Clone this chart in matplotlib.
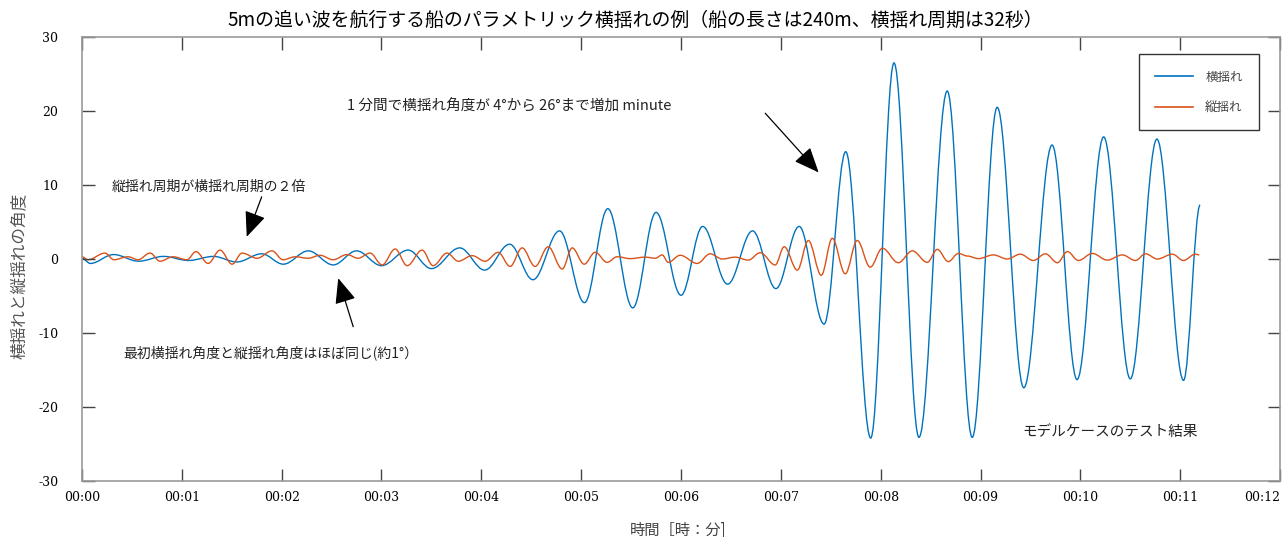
import matplotlib.pyplot as plt
from matplotlib.path import Path
from matplotlib.patches import PathPatch

plt.rcParams['font.family'] = ['Noto Sans CJK JP', 'DejaVu Sans']
plt.rcParams['axes.unicode_minus'] = False

# roll (blue) turning points: time [s], angle [deg]
roll_t = [0, 5, 19, 34, 49, 64, 79, 93, 108, 121, 136, 151, 165, 180, 196, 210,
          227, 242, 257, 271, 287, 302, 316, 331, 345, 360, 373, 388, 403, 417,
          431, 446, 459, 474, 488, 503, 520, 535, 550, 566, 583, 598, 614, 630,
          646, 662, 672]
roll_deg = [0.1, -0.6, 0.6, -0.3, 0.35, -0.2, 0.35, -0.4, 0.7, -0.7, 1.1, -0.8,
            1.1, -0.9, 1.2, -1.3, 1.5, -1.5, 2.0, -2.8, 3.8, -5.9, 6.8, -6.6,
            6.3, -4.9, 4.4, -3.4, 3.8, -4.0, 4.4, -8.8, 14.5, -24.2, 26.5, -24.1,
            22.7, -24.1, 20.5, -17.4, 15.4, -16.3, 16.5, -16.2, 16.2, -16.4, 7.3]

# pitch (orange) turning points: time [s], angle [deg]
pitch_t = [0, 3.6, 13.8, 19.2, 27.7, 33.7, 40.9, 46.9, 54.7, 63.1, 68.5, 75.8,
           83.0, 90.2, 96.2, 105.2, 114.2, 120.8, 128.1, 135.9, 143.1, 150.9,
           159.3, 165.9, 173.1, 180.4, 188.2, 195.4, 204.4, 211.0, 219.4, 226.1,
           234.5, 242.3, 250.1, 257.3, 264.5, 272.3, 280.2, 288.6, 294.6, 301.8,
           308.4, 315.6, 321.6, 329.5, 338.5, 344.5, 348.7, 352.3, 359.5, 369.7,
           377.5, 384.8, 392.6, 400.4, 407.6, 416.6, 422.0, 429.9, 436.5, 444.3,
           450.9, 458.7, 465.9, 473.7, 481.0, 490.6, 499.0, 508.0, 514.0, 520.6,
           526.7, 532.1, 538.7, 547.7, 556.1, 563.9, 571.7, 579.0, 586.2, 592.2,
           598.8, 607.2, 616.2, 625.2, 633.1, 639.1, 646.3, 655.3, 661.9, 669.1,
           671.5]
pitch_deg = [0.3, -0.1, 0.8, -0.1, 0.3, -0.1, 0.8, -0.3, 0.3, -0.1, 1.0, -0.6,
             1.2, -0.7, 0.8, 0.1, 1.1, -0.1, 0.3, 0.1, 0.5, -0.1, 0.6, 0.1, 0.8,
             -0.8, 1.35, -0.9, 1.2, -0.9, 0.8, -0.3, 0.45, -0.3, 0.9, -1.0, 1.5,
             -1.0, 1.65, -1.35, 1.5, -0.7, 0.9, -0.45, 0.3, 0.05, 0.25, 0.1, 0.55,
             -0.45, 0.5, -0.6, 0.7, 0.0, 0.25, -0.15, 0.85, -0.8, 1.65, -1.5, 2.5,
             -2.2, 2.8, -2.0, 2.5, -1.1, 1.45, -0.5, 1.1, -0.45, 1.3, -0.35, 0.75,
             0.4, 0.05, 0.55, 0.0, 0.65, -0.2, 0.7, -0.5, 1.0, -0.2, 0.75, -0.15,
             0.55, -0.2, 0.7, 0.0, 0.65, -0.2, 0.65, 0.55]

x_ticks = list(range(0, 721, 60))
x_labels = [f"00:{m:02d}" for m in range(13)]
y_ticks = [-30, -20, -10, 0, 10, 20, 30]

BLUE = '#0072BD'
ORANGE = '#D95319'


def wave_path(t, v, k=0.36):
    # smooth curve through the turning points (flat tangent at each one)
    verts = [(t[0], v[0])]
    codes = [Path.MOVETO]
    for i in range(1, len(t)):
        dt = t[i] - t[i - 1]
        verts += [(t[i - 1] + k * dt, v[i - 1]), (t[i] - k * dt, v[i]), (t[i], v[i])]
        codes += [Path.CURVE4] * 3
    return Path(verts, codes)


fig = plt.figure(figsize=(12.87, 5.37), dpi=100)
ax = fig.add_axes([0.0637, 0.1043, 0.9309, 0.8268])

ax.add_patch(PathPatch(wave_path(roll_t, roll_deg), fill=False, edgecolor=BLUE, lw=1.0))
ax.add_patch(PathPatch(wave_path(pitch_t, pitch_deg), fill=False, edgecolor=ORANGE, lw=1.0))
ax.plot([], [], color=BLUE, lw=1.2, label='横揺れ')
ax.plot([], [], color=ORANGE, lw=1.2, label='縦揺れ')

ax.set_xlim(0, 720)
ax.set_ylim(-30, 30)
ax.set_xticks(x_ticks, x_labels, fontfamily='DejaVu Serif', fontsize=9)
ax.set_yticks(y_ticks, [str(v) for v in y_ticks], fontfamily='DejaVu Serif', fontsize=9)
ax.get_xticklabels()[-1].set_horizontalalignment('right')
ax.tick_params(direction='in', length=9, width=1, color='#444444', top=True, right=True)
ax.tick_params(axis='x', pad=7)
ax.tick_params(axis='y', pad=17)
for s in ax.spines.values():
    s.set_color('#999999')
    s.set_linewidth(1.2)

ax.set_ylabel('横揺れと縦揺れの角度', fontsize=12, color='#555555')
ax.yaxis.set_label_coords(-0.045, 0.462)
ax.set_xlabel('時間［時：分]', fontsize=11, color='#444444')
ax.xaxis.set_label_coords(0.4975, -0.092)

fig.text(0.494, 0.963, '5mの追い波を航行する船のパラメトリック横揺れの例（船の長さは240m、横揺れ周期は32秒）',
         ha='center', va='center', fontsize=13.6, style='italic')

arrow = dict(arrowstyle='-|>,head_length=1.3,head_width=0.55', color='black', lw=0.9,
             mutation_scale=12, shrinkA=0, shrinkB=0)
ax.text(18, 9.7, '縦揺れ周期が横揺れ周期の２倍', fontsize=10, va='center', color='#222222')
ax.annotate('', xy=(99, 3.0), xytext=(108, 8.4), arrowprops=arrow)
ax.text(24.6, -12.7, '最初横揺れ角度と縦揺れ角度はほぼ同じ(約1°）', fontsize=10, va='center',
        color='#222222')
ax.annotate('', xy=(154, -2.6), xytext=(163, -9.15), arrowprops=arrow)
ax.text(159, 20.6, '1 分間で横揺れ角度が 4°から 26°まで増加 minute', fontsize=10.5,
        va='center', color='#222222')
ax.annotate('', xy=(442.7, 11.7), xytext=(410.6, 19.7), arrowprops=arrow)
ax.text(565, -23.4, 'モデルケースのテスト結果', fontsize=10.5, va='center', style='italic',
        color='#222222')

leg = ax.legend(loc='upper left', bbox_to_anchor=(0.877, 0.975), fontsize=9,
                handlelength=3, handletextpad=1.0, labelspacing=1.4, borderpad=1.3,
                fancybox=False, framealpha=1, edgecolor='#333333')
for txt in leg.get_texts():
    txt.set_color('#444444')

fig.savefig('out.png', dpi=100)
plt.close(fig)
